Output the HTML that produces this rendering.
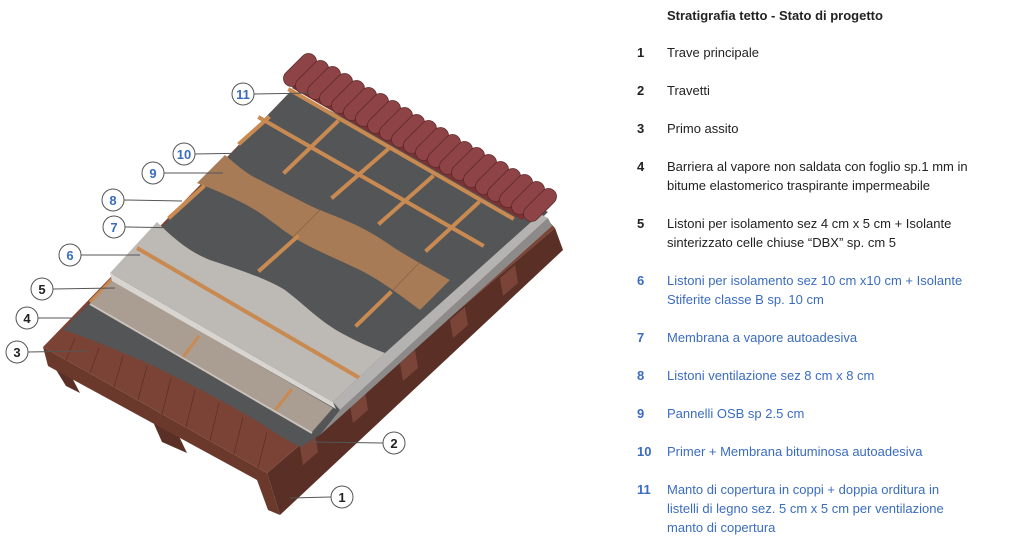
<!DOCTYPE html>
<html><head><meta charset="utf-8"><style>
html,body{margin:0;padding:0;background:#fff;}
body{width:1024px;height:541px;position:relative;overflow:hidden;font-family:"Liberation Sans",sans-serif;}
.t{position:absolute;font-size:13px;color:#222;line-height:19px;white-space:nowrap;}
.n{position:absolute;font-size:13px;font-weight:bold;color:#222;line-height:19px;}
.b{color:#3a6cc0;}
</style></head><body>
<svg width="1024" height="541" style="position:absolute;left:0;top:0">
<polygon points="50,360 68,370 80,393 66,386" fill="#5a3026"/>
<polygon points="150,415 175,428 187,453 162,442" fill="#5a3026"/>
<polygon points="43,347 267,473 280,515 268,510 257,480 48,366" fill="#6b382c"/>
<polygon points="267,473 555,228 563,250 280,515" fill="#5a3026"/>
<g fill="#7a4538">
<polygon points="300,447 315,434 318,452 303,465"/><polygon points="350,405 365,392 368,410 353,423"/>
<polygon points="400,363 415,350 418,368 403,381"/><polygon points="450,320 465,307 468,325 453,338"/>
<polygon points="500,278 515,265 518,283 503,296"/>
</g>
<polygon points="43,347 267,473 555,228 540,212 290,92" fill="#7b4336"/>
<g stroke="#5e3026" stroke-width="0.8">
<line x1="66" y1="360" x2="75" y2="338"/><line x1="90" y1="373" x2="99" y2="348"/><line x1="114" y1="387" x2="123" y2="356"/>
<line x1="138" y1="400" x2="147" y2="366"/><line x1="162" y1="414" x2="171" y2="378"/><line x1="186" y1="427" x2="195" y2="390"/>
<line x1="210" y1="441" x2="219" y2="403"/><line x1="234" y1="454" x2="243" y2="417"/><line x1="258" y1="468" x2="267" y2="432"/>
</g>
<path d="M63,330 C80,335 100,343 140,360 C180,378 200,390 233,407 C260,422 280,437 300,447 L320,435 L548,212 L290,92 L88,305 Z" fill="#545556"/>
<polygon points="90,303 312,432 333,408 112,280" fill="#aa9d92"/>
<line x1="90" y1="304" x2="312" y2="433" stroke="#c9c2bc" stroke-width="2"/>
<line x1="90" y1="302" x2="112" y2="279" stroke="#c98a52" stroke-width="3"/>
<line x1="183" y1="357" x2="199" y2="336" stroke="#c98a52" stroke-width="3"/>
<line x1="275" y1="410" x2="292" y2="389" stroke="#c98a52" stroke-width="3"/>
<polygon points="110,273 333,402 336,409 112,281" fill="#d8d4d0"/>
<path d="M110,273 L157,222 C175,240 190,252 210,260 C240,270 265,278 285,290 C305,305 320,322 345,335 C360,343 372,348 385,353 L333,402 Z" fill="#bdb9b5"/>
<line x1="137" y1="248" x2="363" y2="380" stroke="#c98a52" stroke-width="4"/>
<polygon points="333,402 385,353 540,214 548,218 340,410" fill="#b5b3b1"/>
<polygon points="320,435 340,410 548,218 552,226" fill="#8d8b89"/>
<path d="M225,155 C240,168 250,176 260,180 C275,188 285,193 293,197 C305,203 312,207 320,210 C335,216 348,221 360,227 C372,233 383,240 393,247 C410,258 432,270 450,280 L420,310 C400,295 380,280 360,270 C335,258 310,248 293,237 C280,228 270,220 260,213 C240,200 215,190 197,183 Z" fill="#a67b55"/>
<line x1="293" y1="237" x2="320" y2="210" stroke="#8a6240" stroke-width="0.8"/>
<line x1="393" y1="290" x2="420" y2="262" stroke="#8a6240" stroke-width="0.8"/>
<g stroke="#c98a52" stroke-width="4" stroke-linecap="square">
<line x1="170" y1="217" x2="203" y2="187"/><line x1="240" y1="143" x2="268" y2="118"/>
<line x1="260" y1="270" x2="297" y2="237"/><line x1="357" y1="325" x2="390" y2="293"/>
<line x1="285" y1="172" x2="337" y2="122"/><line x1="333" y1="197" x2="387" y2="150"/>
<line x1="380" y1="223" x2="432" y2="177"/><line x1="427" y1="250" x2="478" y2="203"/>
<line x1="260" y1="118" x2="482" y2="245"/>
</g>
<polygon points="292,88 308,60 552,194 522,220" fill="#7a3232"/>
<g fill="#8e4446" stroke="#5e2828" stroke-width="0.8">
<rect x="292" y="50" width="16" height="40" rx="8" transform="rotate(45 300 70)"/>
<rect x="304" y="57" width="16" height="40" rx="8" transform="rotate(45 312 77)"/>
<rect x="316" y="63" width="16" height="40" rx="8" transform="rotate(45 324 83)"/>
<rect x="328" y="70" width="16" height="40" rx="8" transform="rotate(45 336 90)"/>
<rect x="340" y="77" width="16" height="40" rx="8" transform="rotate(45 348 97)"/>
<rect x="352" y="84" width="16" height="40" rx="8" transform="rotate(45 360 104)"/>
<rect x="364" y="90" width="16" height="40" rx="8" transform="rotate(45 372 110)"/>
<rect x="376" y="97" width="16" height="40" rx="8" transform="rotate(45 384 117)"/>
<rect x="388" y="104" width="16" height="40" rx="8" transform="rotate(45 396 124)"/>
<rect x="400" y="111" width="16" height="40" rx="8" transform="rotate(45 408 131)"/>
<rect x="412" y="117" width="16" height="40" rx="8" transform="rotate(45 420 137)"/>
<rect x="424" y="124" width="16" height="40" rx="8" transform="rotate(45 432 144)"/>
<rect x="436" y="131" width="16" height="40" rx="8" transform="rotate(45 444 151)"/>
<rect x="448" y="138" width="16" height="40" rx="8" transform="rotate(45 456 158)"/>
<rect x="460" y="144" width="16" height="40" rx="8" transform="rotate(45 468 164)"/>
<rect x="472" y="151" width="16" height="40" rx="8" transform="rotate(45 480 171)"/>
<rect x="484" y="158" width="16" height="40" rx="8" transform="rotate(45 492 178)"/>
<rect x="496" y="165" width="16" height="40" rx="8" transform="rotate(45 504 185)"/>
<rect x="508" y="171" width="16" height="40" rx="8" transform="rotate(45 516 191)"/>
<rect x="520" y="178" width="16" height="40" rx="8" transform="rotate(45 528 198)"/>
<rect x="532" y="185" width="16" height="40" rx="8" transform="rotate(45 540 205)"/>
</g>
<line x1="290" y1="90" x2="512" y2="218" stroke="#c98a52" stroke-width="4" stroke-linecap="square"/>
<g stroke="#555" stroke-width="1" fill="#fff">
<line x1="254" y1="94" x2="313" y2="93"/><line x1="195" y1="154" x2="255" y2="153"/>
<line x1="164" y1="173" x2="223" y2="173"/><line x1="124" y1="200" x2="182" y2="201"/>
<line x1="125" y1="227" x2="185" y2="228"/><line x1="81" y1="255" x2="140" y2="255"/>
<line x1="53" y1="289" x2="115" y2="288"/><line x1="38" y1="318" x2="98" y2="318"/>
<line x1="28" y1="352" x2="88" y2="351"/><line x1="383" y1="443" x2="313" y2="442"/>
<line x1="331" y1="497" x2="290" y2="498"/>
<circle cx="243" cy="94" r="11"/><circle cx="184" cy="154" r="11"/><circle cx="153" cy="173" r="11"/>
<circle cx="113" cy="200" r="11"/><circle cx="114" cy="227" r="11"/><circle cx="70" cy="255" r="11"/>
<circle cx="42" cy="289" r="11"/><circle cx="27" cy="318" r="11"/><circle cx="17" cy="352" r="11"/>
<circle cx="394" cy="443" r="11"/><circle cx="342" cy="497" r="11"/>
</g>
<g font-family="Liberation Sans" font-size="13" text-anchor="middle" font-weight="bold">
<g fill="#3a6cc0">
<text x="243" y="99">11</text><text x="184" y="159">10</text><text x="153" y="178">9</text>
<text x="113" y="205">8</text><text x="114" y="232">7</text><text x="70" y="260">6</text>
</g>
<g fill="#222">
<text x="42" y="294">5</text><text x="27" y="323">4</text><text x="17" y="357">3</text>
<text x="394" y="448">2</text><text x="342" y="502">1</text>
</g>
</g>
</svg>
<div class="t" style="left:667px;top:6px;font-weight:bold">Stratigrafia tetto - Stato di progetto</div>
<div class="n" style="left:637px;top:43px">1</div><div class="t" style="left:667px;top:43px">Trave principale</div>
<div class="n" style="left:637px;top:81px">2</div><div class="t" style="left:667px;top:81px">Travetti</div>
<div class="n" style="left:637px;top:119px">3</div><div class="t" style="left:667px;top:119px">Primo assito</div>
<div class="n" style="left:637px;top:157px">4</div><div class="t" style="left:667px;top:157px">Barriera al vapore non saldata con foglio sp.1 mm in<br>bitume elastomerico traspirante impermeabile</div>
<div class="n" style="left:637px;top:214px">5</div><div class="t" style="left:667px;top:214px">Listoni per isolamento sez 4 cm x 5 cm + Isolante<br>sinterizzato celle chiuse “DBX” sp. cm 5</div>
<div class="n b" style="left:637px;top:271px">6</div><div class="t b" style="left:667px;top:271px">Listoni per isolamento sez 10 cm x10 cm + Isolante<br>Stiferite classe B sp. 10 cm</div>
<div class="n b" style="left:637px;top:328px">7</div><div class="t b" style="left:667px;top:328px">Membrana a vapore autoadesiva</div>
<div class="n b" style="left:637px;top:366px">8</div><div class="t b" style="left:667px;top:366px">Listoni ventilazione sez 8 cm x 8 cm</div>
<div class="n b" style="left:637px;top:404px">9</div><div class="t b" style="left:667px;top:404px">Pannelli OSB sp 2.5 cm</div>
<div class="n b" style="left:637px;top:442px">10</div><div class="t b" style="left:667px;top:442px">Primer + Membrana bituminosa autoadesiva</div>
<div class="n b" style="left:637px;top:480px">11</div><div class="t b" style="left:667px;top:480px">Manto di copertura in coppi + doppia orditura in<br>listelli di legno sez. 5 cm x 5 cm per ventilazione<br>manto di copertura</div>
</body></html>
